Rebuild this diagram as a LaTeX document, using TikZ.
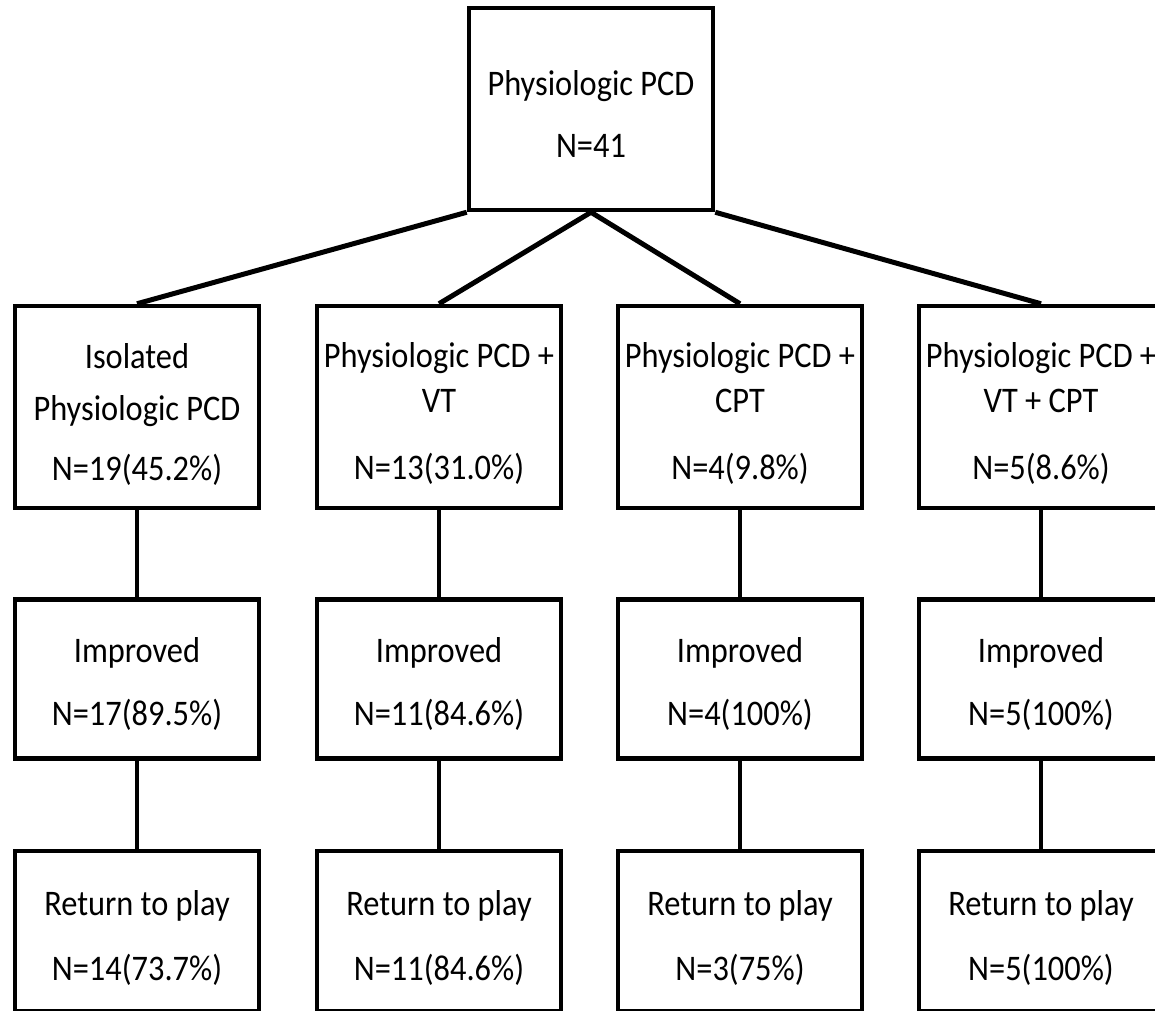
\documentclass[tikz,border=0pt]{standalone}
\usepackage{fontspec}
\newfontfamily\boxfont{Carlito}[FakeStretch=0.9]
\begin{document}
\begin{tikzpicture}[x=1pt,y=-1pt,
  box/.style={draw=black, line width=4.5pt, minimum width=244pt, inner sep=0pt},
  toprow/.style={box, minimum height=202pt},
  midrow/.style={box, minimum height=159pt},
  lowrow/.style={box, minimum height=160pt},
  txt/.style={font=\boxfont\fontsize{36}{43}\selectfont, inner sep=0pt, anchor=base},
  link/.style={line width=5pt},
  stem/.style={line width=3.5pt}]
\useasboundingbox (0,0) rectangle (1155,1010);
\clip (0,0) rectangle (1155,1010);

% root
\node[box, minimum width=244pt, minimum height=202pt] (root) at (591,109) {};
\node[txt] (rootA) at (591,95) {Physiologic PCD};
\node[txt] (rootB) at (591,157) {N=41};

% groups
\node[toprow] (g1) at (137,407) {};
\node[toprow] (g2) at (439,407) {};
\node[toprow] (g3) at (740,407) {};
\node[toprow] (g4) at (1041,407) {};

\node[txt] (g1a) at (137,368) {Isolated};
\node[txt] (g1b) at (137,420) {Physiologic PCD};
\node[txt] (g1c) at (137,480) {N=19(45.2\%)};

\node[txt] (g2a) at (439,367) {Physiologic PCD +};
\node[txt] (g2b) at (439,412) {VT};
\node[txt] (g2c) at (439,479) {N=13(31.0\%)};

\node[txt] (g3a) at (740,367) {Physiologic PCD +};
\node[txt] (g3b) at (740,412) {CPT};
\node[txt] (g3c) at (740,479) {N=4(9.8\%)};

\node[txt] (g4a) at (1041,367) {Physiologic PCD +};
\node[txt] (g4b) at (1041,412) {VT + CPT};
\node[txt] (g4c) at (1041,479) {N=5(8.6\%)};

% improved
\node[midrow] (i1) at (137,679) {};
\node[midrow] (i2) at (439,679) {};
\node[midrow] (i3) at (740,679) {};
\node[midrow] (i4) at (1041,679) {};
\foreach \n/\x/\v in {1/137/N=17(89.5\%), 2/439/N=11(84.6\%), 3/740/N=4(100\%), 4/1041/N=5(100\%)}{
  \node[txt] (i\n a) at (\x,662) {Improved};
  \node[txt] (i\n b) at (\x,725) {\v};
}

% return to play
\node[lowrow] (r1) at (137,931) {};
\node[lowrow] (r2) at (439,931) {};
\node[lowrow] (r3) at (740,931) {};
\node[lowrow] (r4) at (1041,931) {};
\foreach \n/\x/\v in {1/137/N=14(73.7\%), 2/439/N=11(84.6\%), 3/740/N=3(75\%), 4/1041/N=5(100\%)}{
  \node[txt] (r\n a) at (\x,915) {Return to play};
  \node[txt] (r\n b) at (\x,980) {\v};
}

% connectors
\draw[link] (root.south west) -- (g1.north);
\draw[link] (root.south) -- (g2.north);
\draw[link] (root.south) -- (g3.north);
\draw[link] (root.south east) -- (g4.north);
\foreach \n in {1,2,3,4}{
  \draw[stem] (g\n.south) -- (i\n.north);
  \draw[stem] (i\n.south) -- (r\n.north);
}
\end{tikzpicture}
\end{document}
